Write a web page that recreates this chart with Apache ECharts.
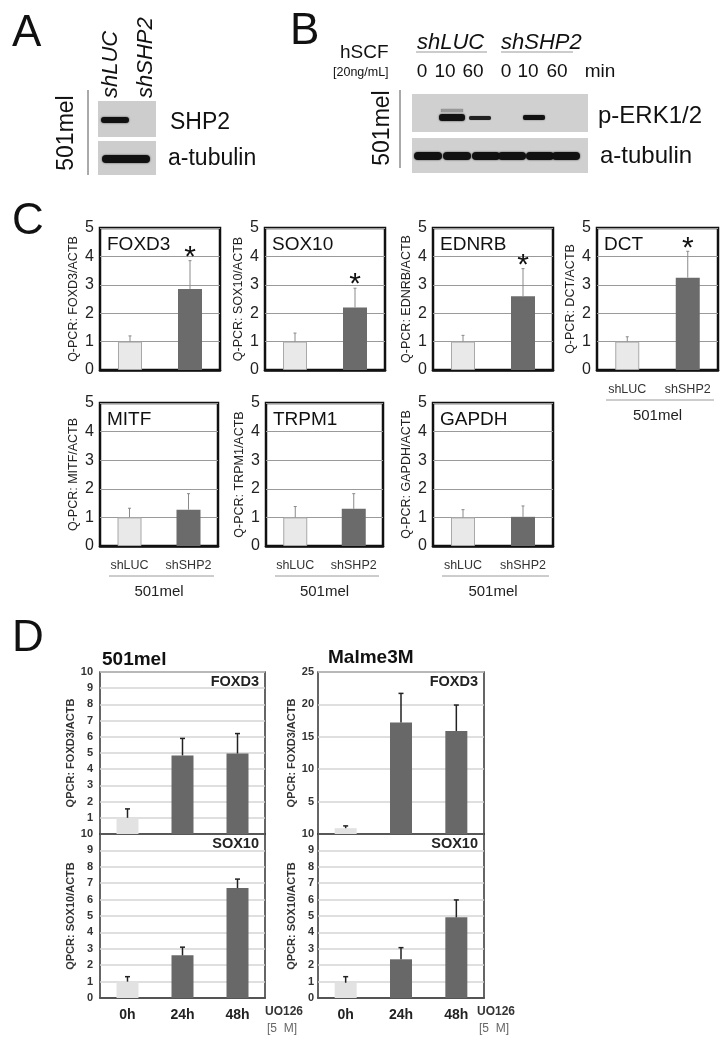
<!DOCTYPE html>
<html><head><meta charset="utf-8">
<script src="https://cdn.jsdelivr.net/npm/echarts@6/dist/echarts.min.js"></script>
<style>html,body{margin:0;padding:0;background:#fff}#c{width:726px;height:1050px}</style>
</head><body><div id="c"></div>
<script>
// ---------- DATA ----------
const groupsC = ['shLUC', 'shSHP2'];
const genesC = ['FOXD3', 'SOX10', 'EDNRB', 'DCT', 'MITF', 'TRPM1', 'GAPDH'];
const meanC = [[1.0, 2.85], [1.0, 2.2], [1.0, 2.6], [1.0, 3.25], [1.0, 1.27], [1.0, 1.3], [1.0, 1.02]];
const errTopC = [[1.2, 3.85], [1.3, 2.88], [1.22, 3.57], [1.17, 4.18], [1.32, 1.83], [1.38, 1.83], [1.27, 1.4]];
const starC = [[0, 1], [0, 1], [0, 1], [0, 1], [0, 0], [0, 0], [0, 0]];
const cellLineC = '501mel';

const timePoints = ['0h', '24h', '48h'];
const mel501Foxd3 = [1.0, 4.85, 4.97];
const mel501Foxd3Err = [1.55, 5.9, 6.2];
const mel501Sox10 = [1.0, 2.6, 6.7];
const mel501Sox10Err = [1.3, 3.1, 7.25];
const malmeFoxd3 = [0.9, 17.2, 15.9];
const malmeFoxd3Err = [1.25, 21.7, 19.9];
const malmeSox10 = [0.93, 2.36, 4.92];
const malmeSox10Err = [1.3, 3.07, 5.98];

// ---------- LAYOUT / STYLE ----------
const FONT = '"Liberation Sans", Arial, Helvetica, sans-serif';
const LIGHT = '#e9e9e9', DARK = '#6b6b6b';
const cLayout = [
  {left: 100, top: 228, width: 120, height: 142},
  {left: 265, top: 228, width: 120, height: 142},
  {left: 433, top: 228, width: 120, height: 142},
  {left: 597, top: 228, width: 121, height: 142},
  {left: 100, top: 403, width: 118, height: 143},
  {left: 266, top: 403, width: 117, height: 143},
  {left: 433, top: 403, width: 120, height: 143}
];
const cShowX = [false, false, false, true, true, true, true];
const dLayout = [
  {left: 100, top: 672, width: 165, height: 162},
  {left: 100, top: 834, width: 165, height: 164},
  {left: 318, top: 672, width: 166, height: 162},
  {left: 318, top: 834, width: 166, height: 164}
];
const dMeans = [mel501Foxd3, mel501Sox10, malmeFoxd3, malmeSox10];
const dErrs = [mel501Foxd3Err, mel501Sox10Err, malmeFoxd3Err, malmeSox10Err];
const dMax = [10, 10, 25, 10];
const dInterval = [1, 1, 5, 1];
const dNames = ['QPCR: FOXD3/ACTB', 'QPCR: SOX10/ACTB', 'QPCR: FOXD3/ACTB', 'QPCR: SOX10/ACTB'];
const dTitles = ['FOXD3', 'SOX10', 'FOXD3', 'SOX10'];
const dIsBottom = [false, true, false, true];

function errRender(color, lw, cap) {
  return function (params, api) {
    const x = api.value(0), v = api.value(1), e = api.value(2), s = api.value(3);
    const p0 = api.coord([x, v]);
    const p1 = api.coord([x, e]);
    const children = [
      {type: 'line', shape: {x1: p0[0], y1: p0[1], x2: p1[0], y2: p1[1]}, style: {stroke: color, lineWidth: lw}},
      {type: 'line', shape: {x1: p1[0] - cap, y1: p1[1], x2: p1[0] + cap, y2: p1[1]}, style: {stroke: color, lineWidth: lw}}
    ];
    if (s) {
      children.push({type: 'text', style: {text: '*', x: p1[0], y: p1[1] - 3, fontSize: 30, fontFamily: FONT,
        fill: '#111', align: 'center', verticalAlign: 'middle'}});
    }
    return {type: 'group', children: children};
  };
}

const grid = [], xAxis = [], yAxis = [], series = [], graphic = [];

function txt(x, y, text, size, opts) {
  opts = opts || {};
  graphic.push({type: 'text', x: x, y: y, rotation: opts.rot || 0, z: 10,
    style: {text: text, fontSize: size, fontFamily: FONT, fontWeight: opts.weight || 'normal',
      fontStyle: opts.style || 'normal', fill: opts.color || '#111',
      align: opts.align || 'left', verticalAlign: opts.va || 'middle'}});
}
function line(x1, y1, x2, y2, color, w) {
  graphic.push({type: 'line', z: 10, shape: {x1: x1, y1: y1, x2: x2, y2: y2}, style: {stroke: color, lineWidth: w}});
}
function rect(x, y, w, h, fill, r, blur) {
  graphic.push({type: 'rect', z: 9, shape: {x: x, y: y, width: w, height: h, r: r || 0},
    style: {fill: fill, shadowBlur: blur || 0, shadowColor: blur ? 'rgba(0,0,0,0.7)' : 'transparent'}});
}

// ---------- Panel C ----------
cLayout.forEach(function (g, i) {
  grid.push({left: g.left, top: g.top, width: g.width, height: g.height, show: true,
    borderColor: '#111', borderWidth: 2.5, backgroundColor: 'transparent', containLabel: false});
  xAxis.push({gridIndex: i, type: 'category', data: groupsC,
    axisTick: {show: false}, axisLine: {show: true, lineStyle: {color: '#111', width: 2.5}},
    axisLabel: {show: cShowX[i], interval: 0, fontSize: 12.5, color: '#333', margin: 13, fontFamily: FONT},
    name: cShowX[i] ? cellLineC : '', nameLocation: 'middle', nameGap: 38,
    nameTextStyle: {fontSize: 15, color: '#222', fontFamily: FONT}});
  yAxis.push({gridIndex: i, type: 'value', min: 0, max: 5, interval: 1,
    axisLine: {show: false}, axisTick: {show: false},
    splitLine: {lineStyle: {color: '#9a9a9a', width: 1}},
    axisLabel: {fontSize: 16, color: '#222', margin: 6, fontFamily: FONT},
    name: 'Q-PCR: ' + genesC[i] + '/ACTB', nameLocation: 'middle', nameGap: 20,
    nameTextStyle: {fontSize: 12.5, color: '#222', fontFamily: FONT}});
  series.push({type: 'bar', xAxisIndex: i, yAxisIndex: i, barWidth: 24, z: 2,
    data: meanC[i].map(function (v, j) {
      return {value: v, itemStyle: j === 0 ? {color: LIGHT, borderColor: '#a8a8a8', borderWidth: 1} : {color: DARK}};
    })});
  series.push({type: 'custom', xAxisIndex: i, yAxisIndex: i, z: 3, clip: false,
    renderItem: errRender('#8a8a8a', 1, 1.5), encode: {x: 0, y: 1},
    data: meanC[i].map(function (v, j) { return [j, v, errTopC[i][j], starC[i][j]]; })});
  txt(g.left + 7, g.top + 17, genesC[i], 19, {color: '#111'});
  if (cShowX[i]) {
    line(g.left + 9, g.top + g.height + 30, g.left + g.width - 4, g.top + g.height + 30, '#9a9a9a', 1);
  }
});

// ---------- Panel D ----------
dLayout.forEach(function (g, k) {
  const i = cLayout.length + k;
  grid.push({left: g.left, top: g.top, width: g.width, height: g.height, show: true,
    borderColor: '#333', borderWidth: 1.5, backgroundColor: 'transparent'});
  xAxis.push({gridIndex: i, type: 'category', data: timePoints,
    axisTick: {show: false}, axisLine: {show: true, lineStyle: {color: '#333', width: 1.5}},
    axisLabel: {show: dIsBottom[k], interval: 0, fontSize: 14, fontWeight: 'bold', color: '#222', margin: 10, fontFamily: FONT}});
  yAxis.push({gridIndex: i, type: 'value', min: 0, max: dMax[k], interval: dInterval[k],
    axisLine: {show: false}, axisTick: {show: false},
    splitLine: {lineStyle: {color: '#d4d4d4', width: 1.5}},
    axisLabel: {fontSize: 11, fontWeight: 'bold', color: '#333', margin: k >= 2 ? 4 : 7, fontFamily: FONT,
      showMinLabel: dIsBottom[k]},
    name: dNames[k], nameLocation: 'middle', nameGap: k >= 2 ? 21 : 24,
    nameTextStyle: {fontSize: 11, fontWeight: 'bold', color: '#333', fontFamily: FONT}});
  series.push({type: 'bar', xAxisIndex: i, yAxisIndex: i, barWidth: 22, z: 2,
    data: dMeans[k].map(function (v, j) {
      return {value: v, itemStyle: {color: j === 0 ? '#e2e2e2' : '#686868'}};
    })});
  series.push({type: 'custom', xAxisIndex: i, yAxisIndex: i, z: 3, clip: false,
    renderItem: errRender('#222', 1.5, 2.5), encode: {x: 0, y: 1},
    data: dMeans[k].map(function (v, j) { return [j, v, dErrs[k][j], 0]; })});
  txt(g.left + g.width - 6, g.top + 10, dTitles[k], 14.5, {weight: 'bold', align: 'right', color: '#222'});
});

// ---------- Panel letters ----------
txt(12, 34, 'A', 44);
txt(290, 32, 'B', 44);
txt(12, 222, 'C', 44);
txt(12, 639, 'D', 44);

// ---------- Panel A (western blot) ----------
txt(111, 98, 'shLUC', 22, {rot: Math.PI / 2, style: 'italic'});
txt(146, 98, 'shSHP2', 22, {rot: Math.PI / 2, style: 'italic'});
txt(67, 133, '501mel', 23, {rot: Math.PI / 2, align: 'center'});
line(88, 90, 88, 175, '#555', 1);
rect(98, 101, 58, 36, '#cdcdcd');
rect(101, 117, 28, 6, '#111', 3, 2);
rect(98, 141, 58, 34, '#cdcdcd');
rect(102, 155, 48, 8, '#111', 4, 2);
txt(170, 123, 'SHP2', 23);
txt(168, 159, 'a-tubulin', 23);

// ---------- Panel B (western blot) ----------
txt(340, 53, 'hSCF', 19);
txt(333, 73, '[20ng/mL]', 12.5);
txt(417, 43, 'shLUC', 22, {style: 'italic'});
line(416, 52, 487, 52, '#999', 1);
txt(501, 43, 'shSHP2', 22, {style: 'italic'});
line(501, 52, 573, 52, '#999', 1);
[[422, '0'], [445, '10'], [473, '60'], [506, '0'], [528, '10'], [557, '60'], [600, 'min']].forEach(function (p) {
  txt(p[0], 72, p[1], 19, {align: 'center'});
});
txt(383, 128, '501mel', 23, {rot: Math.PI / 2, align: 'center'});
line(400, 90, 400, 168, '#555', 1);
rect(412, 94, 176, 38, '#d0d0d0');
rect(441, 109, 22, 3, '#999', 1, 1);
rect(439, 114, 26, 7, '#111', 3, 2);
rect(469, 116, 22, 4, '#222', 2, 1);
rect(523, 115, 22, 5, '#111', 2, 1.5);
txt(598, 116, 'p-ERK1/2', 24);
rect(412, 138, 176, 35, '#d0d0d0');
[428, 457, 486, 512, 540, 566].forEach(function (cx) {
  rect(cx - 14, 152, 28, 8, '#111', 4, 2);
});
txt(600, 156, 'a-tubulin', 24);

// ---------- Panel D texts ----------
txt(102, 660, '501mel', 19, {weight: 'bold'});
txt(328, 658, 'Malme3M', 19, {weight: 'bold'});
txt(265, 1012, 'UO126', 12, {weight: 'bold', color: '#333'});
txt(267, 1029, '[5  M]', 12, {color: '#666'});
txt(477, 1012, 'UO126', 12, {weight: 'bold', color: '#333'});
txt(479, 1029, '[5  M]', 12, {color: '#666'});

const chart = echarts.init(document.getElementById('c'));
chart.setOption({
  animation: false,
  backgroundColor: '#ffffff',
  textStyle: {fontFamily: FONT},
  grid: grid, xAxis: xAxis, yAxis: yAxis, series: series, graphic: graphic
});
</script></body></html>
